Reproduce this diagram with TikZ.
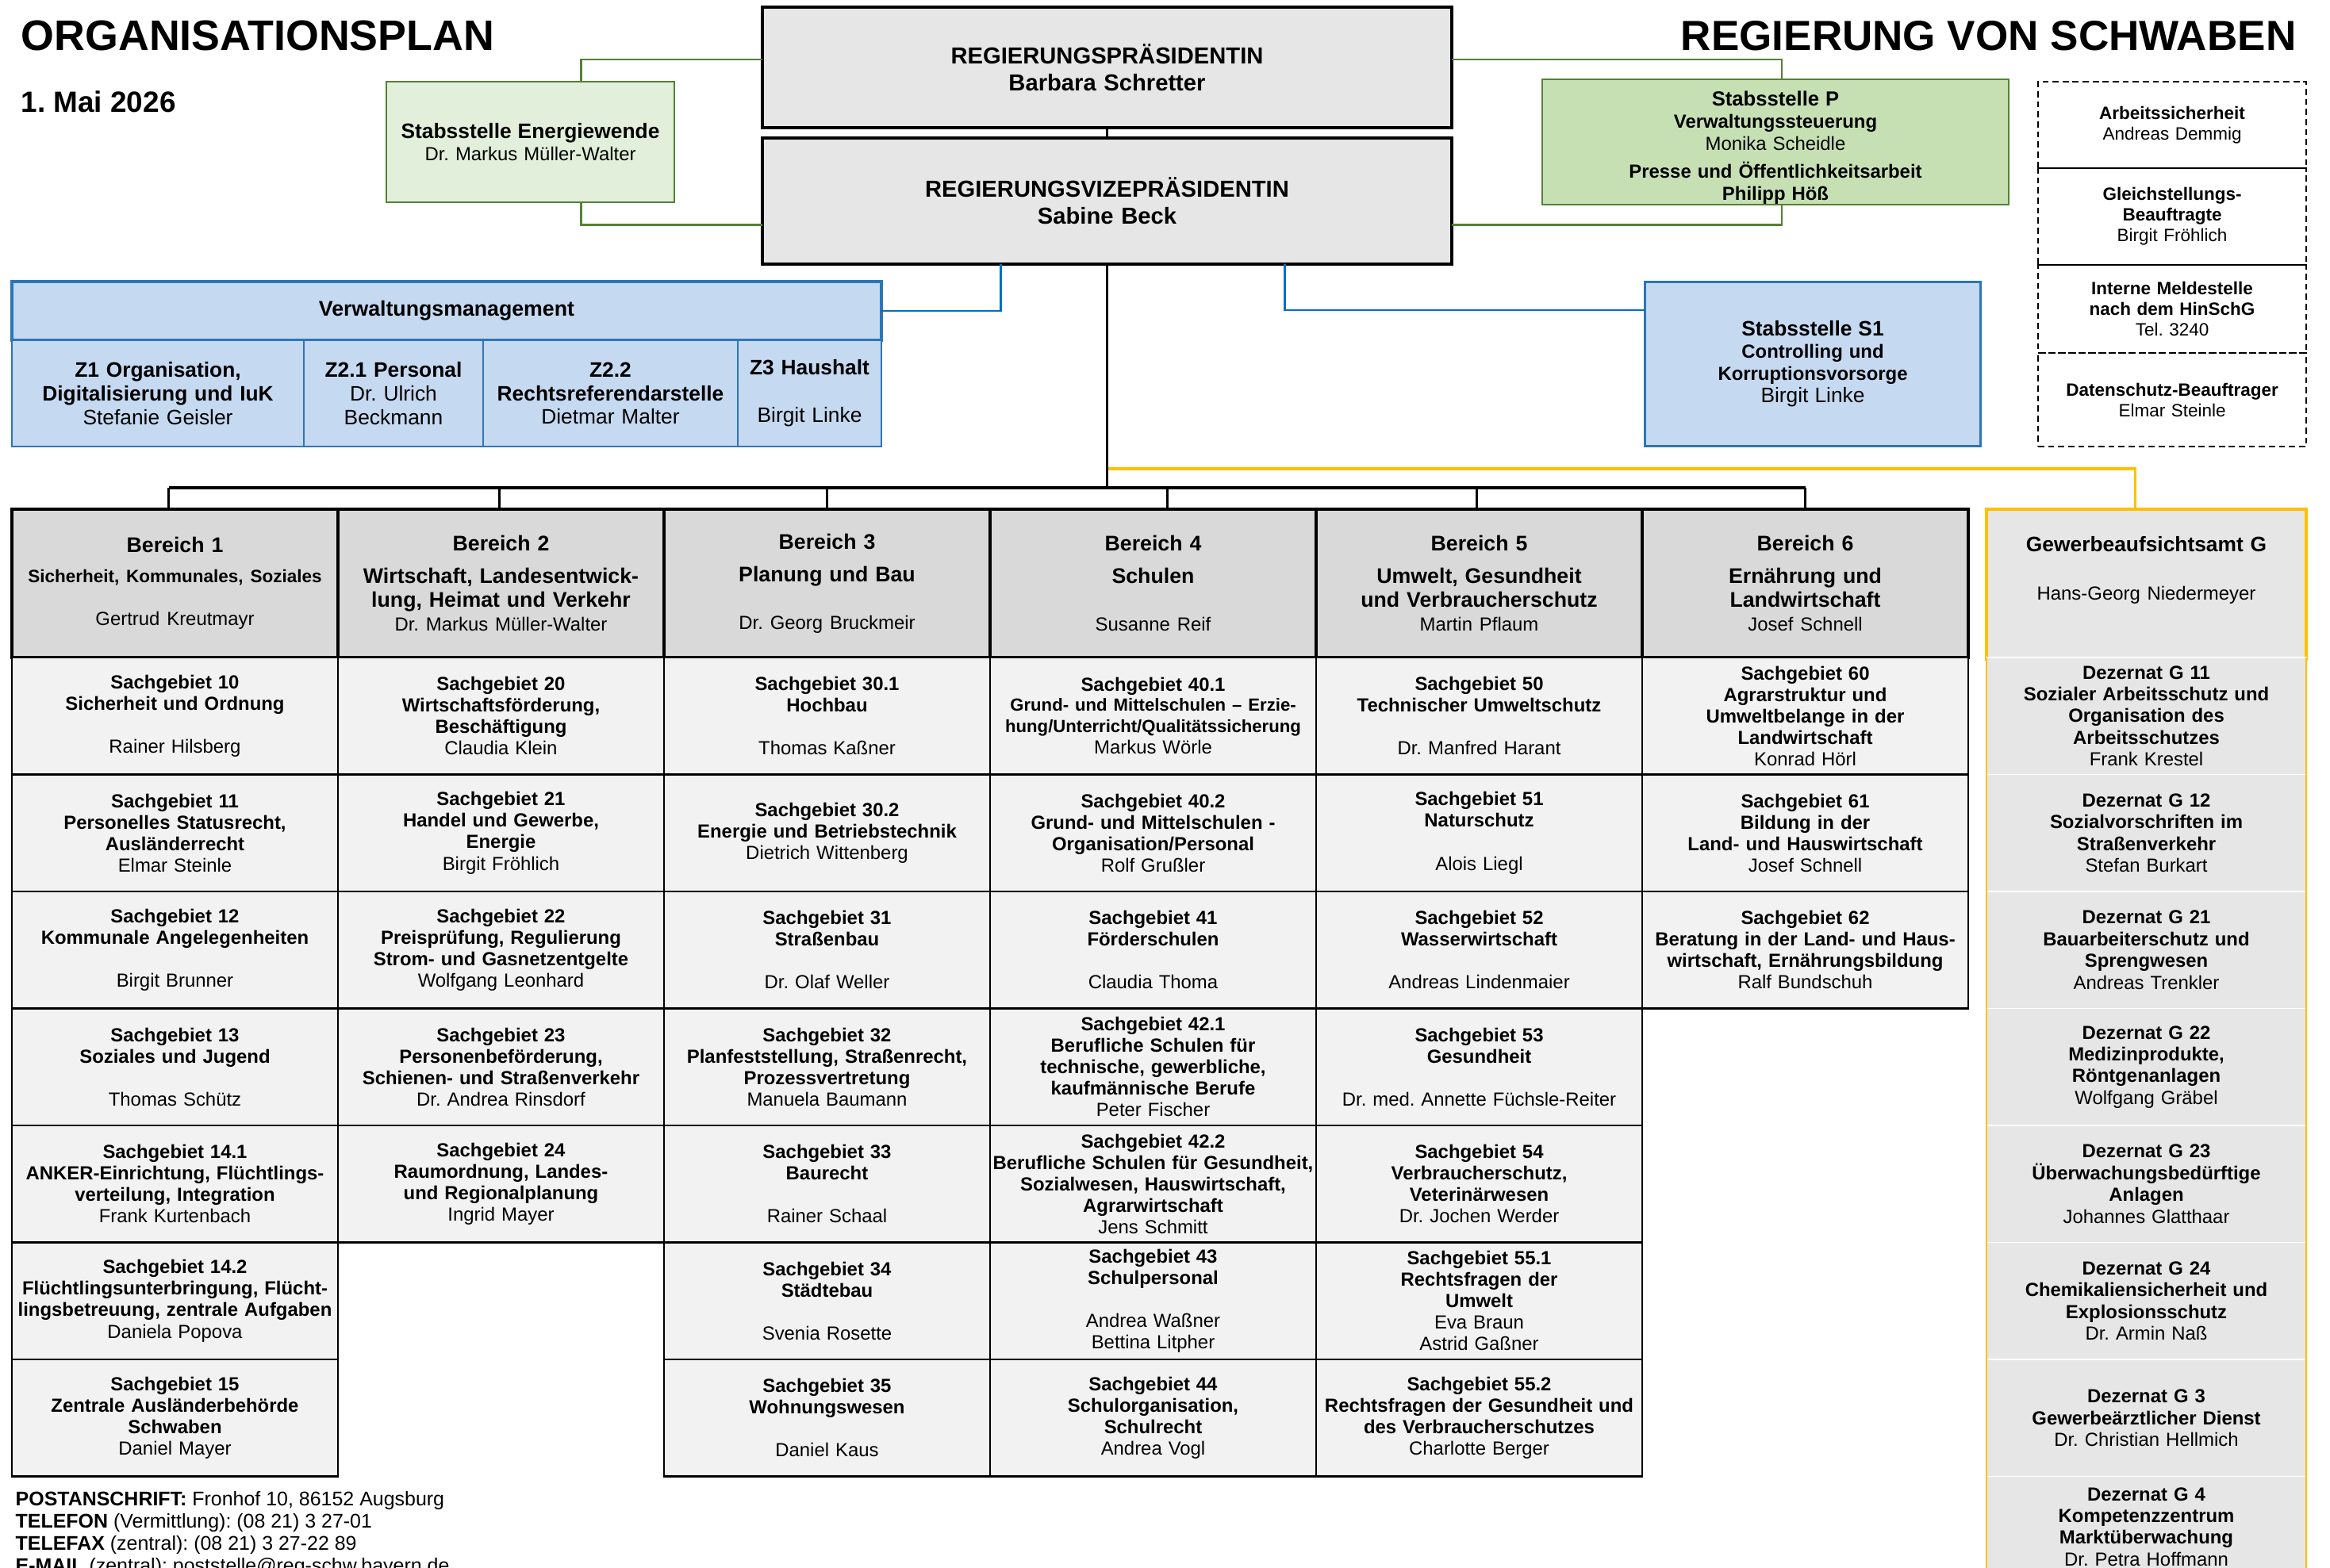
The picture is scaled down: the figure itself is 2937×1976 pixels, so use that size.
\documentclass[tikz,border=0pt]{standalone}
\usepackage{fontspec}
\setmainfont{Liberation Sans}
\usetikzlibrary{positioning}

\definecolor{boxgray}{HTML}{E6E6E6}
\definecolor{headgray}{HTML}{D9D9D9}
\definecolor{cellgray}{HTML}{F2F2F2}
\definecolor{ggray}{HTML}{E7E6E6}
\definecolor{greenlight}{HTML}{E2EFDA}
\definecolor{greenmid}{HTML}{C6E0B4}
\definecolor{greenline}{HTML}{548235}
\definecolor{bluefill}{HTML}{C5D9F1}
\definecolor{blueline}{HTML}{2E75B6}
\definecolor{bluecon}{HTML}{0070C0}
\definecolor{gold}{HTML}{FFC000}

\newcommand{\pname}{\mdseries}
\newcommand{\hname}{\mdseries\fontsize{6.8}{8.5}\selectfont}

\begin{document}
\frenchspacing
\begin{tikzpicture}[
        x = 0.1mm, y = -0.1mm, % one unit = one pixel of the plan
        base/.style = {rectangle, inner sep=0pt, outer sep=0pt, align=center},
        topbox/.style = {base, draw=black, line width=1pt, fill=boxgray,
            minimum width=86.9mm, text width=86.9mm, font=\fontsize{8.3}{9.6}\selectfont\bfseries},
        stab/.style = {base, draw=greenline, line width=0.8pt, minimum height=15.2mm,
            font=\fontsize{6.8}{8}\selectfont\bfseries},
        dbox/.style = {base, draw=black, line width=0.8pt, dash pattern=on 2.2pt off 1.4pt,
            minimum width=33.8mm, text width=33.8mm, font=\fontsize{6.4}{7.4}\selectfont\bfseries},
        zcell/.style = {base, draw=blueline, line width=0.7pt, fill=bluefill, minimum height=13.4mm,
            minimum width=#1, text width=#1, font=\fontsize{7.5}{8.5}\selectfont\bfseries},
        head/.style = {base, draw=black, line width=1pt, fill=headgray, minimum width=41.1mm,
            text width=41.1mm, minimum height=18.7mm, font=\fontsize{7.6}{8.5}\selectfont\bfseries},
        cell/.style = {base, draw=black, line width=0.6pt, fill=cellgray, minimum width=41.1mm,
            text width=41.1mm, minimum height=14.75mm, font=\fontsize{6.8}{7.7}\selectfont\bfseries},
        gcell/.style = {base, draw=white, line width=0.4pt, fill=ggray, minimum width=40.3mm,
            text width=40.3mm, minimum height=14.75mm, font=\fontsize{6.8}{7.8}\selectfont\bfseries},
        gline/.style = {draw=greenline, line width=0.7pt},
        bline/.style = {draw=bluecon, line width=0.8pt},
        yline/.style = {draw=gold, line width=0.9pt},
        trunk/.style = {line width=0.9pt},
        tick/.style = {line width=0.6pt}
        ]

  \useasboundingbox (0,0) rectangle (2937,1976);

  % titles
  \node[anchor=base west, inner sep=0, font=\fontsize{15.3}{18}\selectfont\bfseries] (title) at (26,64) {ORGANISATIONSPLAN};
  \node[anchor=base west, inner sep=0, font=\fontsize{10.5}{12}\selectfont\bfseries] (datum) at (26,142) {1. Mai 2026};
  \node[anchor=base east, inner sep=0, font=\fontsize{15.1}{18}\selectfont\bfseries] (behoerde) at (2895,64) {REGIERUNG VON SCHWABEN};

  % leadership
  \node[topbox, minimum height=15.2mm] (praes) at (1395.5,85) {REGIERUNGSPRÄSIDENTIN\\Barbara Schretter};
  \node[topbox, minimum height=15.9mm] (vize) at (1395.5,253.5) {REGIERUNGSVIZEPRÄSIDENTIN\\Sabine Beck};

  \node[stab, fill=greenlight, minimum width=36.3mm, text width=36.3mm] (energie) at (668.5,179)
    {{\fontsize{7.5}{8}\selectfont Stabsstelle Energiewende}\\\pname Dr. Markus Müller-Walter};
  \node[stab, fill=greenmid, minimum width=58.8mm, text width=58.8mm] (stabp) at (2238,179)
    {\rule{0pt}{9.5pt}{\fontsize{7.3}{8}\selectfont Stabsstelle P}\\Verwaltungssteuerung\\{\pname Monika Scheidle}\\[2pt]Presse und Öffentlichkeitsarbeit\\Philipp Höß};
  \node[base, draw=blueline, line width=1pt, fill=bluefill, minimum width=42.3mm, text width=42.3mm,
        minimum height=20.7mm, font=\fontsize{6.8}{8}\selectfont\bfseries] (sone) at (2285,459)
    {{\fontsize{7.5}{8}\selectfont Stabsstelle S1}\\Controlling und\\Korruptionsvorsorge\\{\pname\fontsize{7.5}{8}\selectfont Birgit Linke}};

  % officers
  \node[dbox, minimum height=10.9mm] (dsich) at (2738,157.5) {Arbeitssicherheit\\\pname Andreas Demmig};
  \node[dbox, minimum height=12.2mm] (dgleich) at (2738,273) {Gleichstellungs-\\Beauftragte\\\pname Birgit Fröhlich};
  \node[dbox, minimum height=11.1mm] (dmelde) at (2738,389.5) {Interne Meldestelle\\nach dem HinSchG\\\pname Tel. 3240};
  \node[dbox, minimum height=11.8mm] (ddaten) at (2738,504) {Datenschutz-Beauftrager\\\pname Elmar Steinle};

  % Verwaltungsmanagement
  \node[base, draw=blueline, line width=0.9pt, fill=bluefill, minimum width=109.6mm, minimum height=7.4mm,
        font=\fontsize{7.6}{8.5}\selectfont\bfseries] (vmhead) at (563,392) {Verwaltungsmanagement};
  \node[zcell=36.8mm] (zorg) at (199,496) {Z1 Organisation,\\Digitalisierung und IuK\\\pname Stefanie Geisler};
  \node[zcell=22.6mm] (zpers) at (496,496) {Z2.1 Personal\\\pname Dr. Ulrich\\Beckmann};
  \node[zcell=32.1mm] (zrecht) at (769.5,496) {Z2.2\\Rechtsreferendarstelle\\\pname Dietmar Malter};
  \node[zcell=18.1mm] (zhaus) at (1020.5,496) {Z3 Haushalt\\[8.5pt]\pname Birgit Linke};

  % Bereiche
  \node[head] (b1) at (220.5,735.5) {Bereich 1\\[2.1pt]{\fontsize{6.4}{8.5}\selectfont Sicherheit, Kommunales, Soziales}\\[7pt]\hname Gertrud Kreutmayr};
  \node[head] (b2) at (631.5,735.5) {Bereich 2\\[3.2pt]Wirtschaft, Landesentwick-\\lung, Heimat und Verkehr\\\hname Dr. Markus Müller-Walter};
  \node[head] (b3) at (1042.5,735.5) {Bereich 3\\[3.2pt]Planung und Bau\\[8.5pt]\hname Dr. Georg Bruckmeir};
  \node[head] (b4) at (1453.5,735.5) {Bereich 4\\[3.2pt]Schulen\\[8.5pt]\hname Susanne Reif};
  \node[head] (b5) at (1864.5,735.5) {Bereich 5\\[3.2pt]Umwelt, Gesundheit\\und Verbraucherschutz\\\hname Martin Pflaum};
  \node[head] (b6) at (2275.5,735.5) {Bereich 6\\[3.2pt]Ernährung und\\Landwirtschaft\\\hname Josef Schnell};

  % Bereich 1
  \node[cell] (s10) at (220.5,902.75) {Sachgebiet 10\\Sicherheit und Ordnung\\[7.7pt]\pname Rainer Hilsberg};
  \node[cell] (s11) at (220.5,1050.25) {Sachgebiet 11\\Personelles Statusrecht,\\Ausländerrecht\\\pname Elmar Steinle};
  \node[cell] (s12) at (220.5,1197.75) {Sachgebiet 12\\Kommunale Angelegenheiten\\[7.7pt]\pname Birgit Brunner};
  \node[cell] (s13) at (220.5,1345.25) {Sachgebiet 13\\Soziales und Jugend\\[7.7pt]\pname Thomas Schütz};
  \node[cell] (s141) at (220.5,1492.75) {Sachgebiet 14.1\\ANKER-Einrichtung, Flüchtlings-\\verteilung, Integration\\\pname Frank Kurtenbach};
  \node[cell] (s142) at (220.5,1640.25) {Sachgebiet 14.2\\Flüchtlingsunterbringung, Flücht-\\lingsbetreuung, zentrale Aufgaben\\\pname Daniela Popova};
  \node[cell] (s15) at (220.5,1787.75) {Sachgebiet 15\\Zentrale Ausländerbehörde\\Schwaben\\\pname Daniel Mayer};

  % Bereich 2
  \node[cell] (s20) at (631.5,902.75) {Sachgebiet 20\\Wirtschaftsförderung,\\Beschäftigung\\\pname Claudia Klein};
  \node[cell] (s21) at (631.5,1050.25) {Sachgebiet 21\\Handel und Gewerbe,\\Energie\\\pname Birgit Fröhlich};
  \node[cell] (s22) at (631.5,1197.75) {Sachgebiet 22\\Preisprüfung, Regulierung\\Strom- und Gasnetzentgelte\\\pname Wolfgang Leonhard};
  \node[cell] (s23) at (631.5,1345.25) {Sachgebiet 23\\Personenbeförderung,\\Schienen- und Straßenverkehr\\\pname Dr. Andrea Rinsdorf};
  \node[cell] (s24) at (631.5,1492.75) {Sachgebiet 24\\Raumordnung, Landes-\\und Regionalplanung\\\pname Ingrid Mayer};

  % Bereich 3
  \node[cell] (s301) at (1042.5,902.75) {Sachgebiet 30.1\\Hochbau\\[7.7pt]\pname Thomas Kaßner};
  \node[cell] (s302) at (1042.5,1050.25) {Sachgebiet 30.2\\Energie und Betriebstechnik\\\pname Dietrich Wittenberg};
  \node[cell] (s31) at (1042.5,1197.75) {Sachgebiet 31\\Straßenbau\\[7.7pt]\pname Dr. Olaf Weller};
  \node[cell] (s32) at (1042.5,1345.25) {Sachgebiet 32\\Planfeststellung, Straßenrecht,\\Prozessvertretung\\\pname Manuela Baumann};
  \node[cell] (s33) at (1042.5,1492.75) {Sachgebiet 33\\Baurecht\\[7.7pt]\pname Rainer Schaal};
  \node[cell] (s34) at (1042.5,1640.25) {Sachgebiet 34\\Städtebau\\[7.7pt]\pname Svenia Rosette};
  \node[cell] (s35) at (1042.5,1787.75) {Sachgebiet 35\\Wohnungswesen\\[7.7pt]\pname Daniel Kaus};

  % Bereich 4
  \node[cell] (s401) at (1453.5,902.75) {Sachgebiet 40.1\\{\fontsize{6.3}{7.1}\selectfont Grund- und Mittelschulen – Erzie-\\hung/Unterricht/Qualitätssicherung}\\\pname Markus Wörle};
  \node[cell] (s402) at (1453.5,1050.25) {Sachgebiet 40.2\\Grund- und Mittelschulen -\\Organisation/Personal\\\pname Rolf Grußler};
  \node[cell] (s41) at (1453.5,1197.75) {Sachgebiet 41\\Förderschulen\\[7.7pt]\pname Claudia Thoma};
  \node[cell] (s421) at (1453.5,1345.25) {Sachgebiet 42.1\\Berufliche Schulen für\\technische, gewerbliche,\\kaufmännische Berufe\\\pname Peter Fischer};
  \node[cell] (s422) at (1453.5,1492.75) {Sachgebiet 42.2\\Berufliche Schulen für Gesundheit,\\Sozialwesen, Hauswirtschaft,\\Agrarwirtschaft\\\pname Jens Schmitt};
  \node[cell] (s43) at (1453.5,1640.25) {Sachgebiet 43\\Schulpersonal\\[7.7pt]\pname Andrea Waßner\\Bettina Litpher};
  \node[cell] (s44) at (1453.5,1787.75) {Sachgebiet 44\\Schulorganisation,\\Schulrecht\\\pname Andrea Vogl};

  % Bereich 5
  \node[cell] (s50) at (1864.5,902.75) {Sachgebiet 50\\Technischer Umweltschutz\\[7.7pt]\pname Dr. Manfred Harant};
  \node[cell] (s51) at (1864.5,1050.25) {Sachgebiet 51\\Naturschutz\\[7.7pt]\pname Alois Liegl};
  \node[cell] (s52) at (1864.5,1197.75) {Sachgebiet 52\\Wasserwirtschaft\\[7.7pt]\pname Andreas Lindenmaier};
  \node[cell] (s53) at (1864.5,1345.25) {Sachgebiet 53\\Gesundheit\\[7.7pt]\pname Dr. med. Annette Füchsle-Reiter};
  \node[cell] (s54) at (1864.5,1492.75) {Sachgebiet 54\\Verbraucherschutz,\\Veterinärwesen\\\pname Dr. Jochen Werder};
  \node[cell] (s551) at (1864.5,1640.25) {Sachgebiet 55.1\\Rechtsfragen der\\Umwelt\\\pname Eva Braun\\Astrid Gaßner};
  \node[cell] (s552) at (1864.5,1787.75) {Sachgebiet 55.2\\Rechtsfragen der Gesundheit und\\des Verbraucherschutzes\\\pname Charlotte Berger};

  % Bereich 6
  \node[cell] (s60) at (2275.5,902.75) {Sachgebiet 60\\Agrarstruktur und\\Umweltbelange in der\\Landwirtschaft\\\pname Konrad Hörl};
  \node[cell] (s61) at (2275.5,1050.25) {Sachgebiet 61\\Bildung in der\\Land- und Hauswirtschaft\\\pname Josef Schnell};
  \node[cell] (s62) at (2275.5,1197.75) {Sachgebiet 62\\Beratung in der Land- und Haus-\\wirtschaft, Ernährungsbildung\\\pname Ralf Bundschuh};

  % Gewerbeaufsichtsamt
  \node[base, draw=gold, line width=1pt, fill=ggray, minimum width=40.3mm, text width=40.3mm,
        minimum height=18.9mm, font=\fontsize{7.5}{8.5}\selectfont\bfseries] (gamt) at (2705.5,736.5)
    {Gewerbeaufsichtsamt G\\[9pt]{\hname Hans-Georg Niedermeyer}\\[3pt]\mbox{}};
  \node[gcell] (g11) at (2705.5,902.75) {Dezernat G 11\\Sozialer Arbeitsschutz und\\Organisation des\\Arbeitsschutzes\\\pname Frank Krestel};
  \node[gcell] (g12) at (2705.5,1050.25) {Dezernat G 12\\Sozialvorschriften im\\Straßenverkehr\\\pname Stefan Burkart};
  \node[gcell] (g21) at (2705.5,1197.75) {Dezernat G 21\\Bauarbeiterschutz und\\Sprengwesen\\\pname Andreas Trenkler};
  \node[gcell] (g22) at (2705.5,1345.25) {Dezernat G 22\\Medizinprodukte,\\Röntgenanlagen\\\pname Wolfgang Gräbel};
  \node[gcell] (g23) at (2705.5,1492.75) {Dezernat G 23\\Überwachungsbedürftige\\Anlagen\\\pname Johannes Glatthaar};
  \node[gcell] (g24) at (2705.5,1640.25) {Dezernat G 24\\Chemikaliensicherheit und\\Explosionsschutz\\\pname Dr. Armin Naß};
  \node[gcell] (g3) at (2705.5,1787.75) {Dezernat G 3\\Gewerbeärztlicher Dienst\\\pname Dr. Christian Hellmich};
  \node[gcell, minimum height=12.7mm] (g4) at (2705.5,1925) {Dezernat G 4\\Kompetenzzentrum\\Marktüberwachung\\\pname Dr. Petra Hoffmann};
  \draw[yline, line width=0.4pt] (g11.north west) -- (g4.south west);
  \draw[yline, line width=0.4pt] (g11.north east) -- (g4.south east);

  % address
  \node[anchor=north west, inner sep=0, align=left, font=\fontsize{7.1}{7.9}\selectfont] (post) at (19,1880)
    {\textbf{POSTANSCHRIFT:} Fronhof 10, 86152 Augsburg\\
     \textbf{TELEFON} (Vermittlung): (08 21) 3 27-01\\
     \textbf{TELEFAX} (zentral): (08 21) 3 27-22 89\\
     \textbf{E-MAIL} (zentral): poststelle@reg-schw.bayern.de};

  % connectors
  \draw[gline] ([xshift=6.4mm]energie.north) |- ([yshift=1mm]praes.west);
  \draw[gline] ([xshift=6.4mm]energie.south) |- ([yshift=-3mm]vize.west);
  \draw[gline] ([xshift=0.8mm]stabp.north) |- ([yshift=1mm]praes.east);
  \draw[gline] ([xshift=0.8mm]stabp.south) |- ([yshift=-3mm]vize.east);
  \draw[bline] ([xshift=-13.4mm]vize.south) |- (vmhead.east);
  \draw[bline] ([xshift=22.4mm]vize.south) |- ([yshift=6.8mm]sone.west);
  \draw[yline] ([xshift=-1.4mm]gamt.north) |- ([yshift=-25.8mm]vize.south);
  \draw[trunk] (praes.south) -- (vize.north);
  \draw[trunk] (vize.south) -- ([yshift=2.7mm]vize.south |- b1.north);
  \draw[trunk] ([xshift=-0.8mm, yshift=2.7mm]b1.north) -- ([yshift=2.7mm]b6.north);
  \foreach \b/\dx in {b1/-0.8,b2/-0.2,b3/0,b4/1.8,b5/-0.3,b6/0}
    \draw[tick] ([xshift=\dx mm]\b.north) -- ++(0,2.7mm);

\end{tikzpicture}
\end{document}
